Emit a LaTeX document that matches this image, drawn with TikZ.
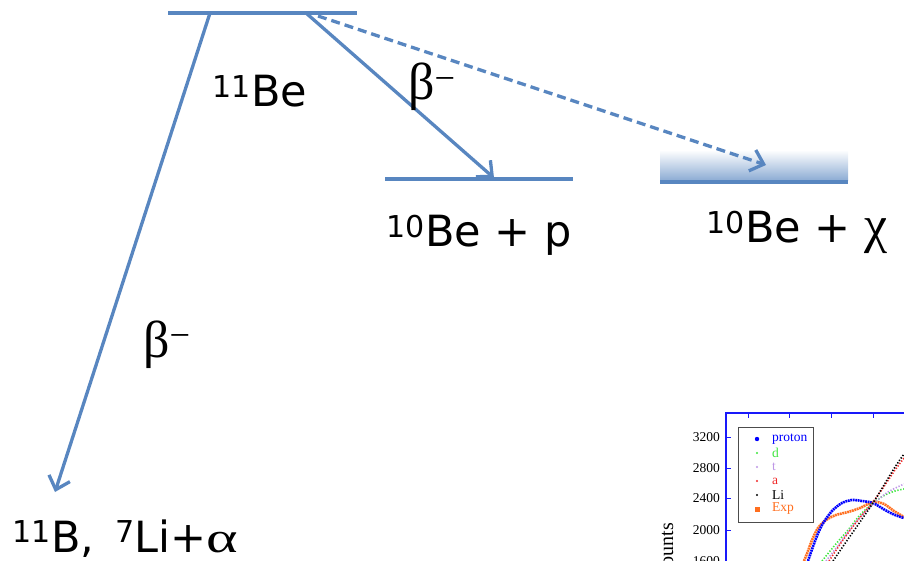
\documentclass[tikz,border=0pt]{standalone}
\usepackage{fontspec}
\setmainfont{DejaVu Sans}
\newfontfamily\greekfont{Liberation Serif}
\usetikzlibrary{arrows.meta}

\definecolor{lvlblue}{RGB}{88,134,192}
\definecolor{axisblue}{RGB}{25,25,250}
\definecolor{dgreen}{RGB}{60,230,60}
\definecolor{tpurple}{RGB}{190,150,230}
\definecolor{ared}{RGB}{240,40,40}
\definecolor{exporange}{RGB}{255,110,30}

\tikzset{
  lvl/.style={draw=lvlblue, line width=3.6pt},
  decay/.style={draw=lvlblue, line width=3.3pt, -{Straight Barb[length=12pt, width=22pt]}},
  lbl/.style={font=\fontsize{43}{50}\selectfont, inner sep=0pt, anchor=base west},
  greek/.style={font=\greekfont\fontsize{52}{60}\selectfont, inner sep=0pt, anchor=base west},
  ticklbl/.style={font=\greekfont\fontsize{13.5}{15}\selectfont, inner sep=0pt, anchor=east},
  legtext/.style={font=\greekfont\fontsize{13.5}{15}\selectfont, inner sep=0pt, anchor=west},
  dense/.style={line width=2.6pt, dash pattern=on 1.8pt off 0.7pt},
  sparse/.style={line width=1.6pt, dash pattern=on 1.3pt off 1.7pt}
}

\begin{document}
\begin{tikzpicture}[x=1pt, y=-1pt]
  \useasboundingbox (0,0) rectangle (904,561);

  % levels
  \coordinate (be11-l) at (168,13);
  \coordinate (be11-r) at (357,13);
  \coordinate (bep-l) at (385,179);
  \coordinate (bep-r) at (573,179);
  \draw[lvl] (be11-l) -- (be11-r);
  \draw[lvl] (bep-l) -- (bep-r);
  \shade[top color=white, bottom color=lvlblue!70] (660,150) rectangle (848,181);
  \coordinate (bechi-l) at (660,182);
  \coordinate (bechi-r) at (848,182);
  \draw[lvl] (bechi-l) -- (bechi-r);

  % decays
  \coordinate (src-b) at (210,13);
  \coordinate (dst-b) at (55,492);
  \coordinate (src-p) at (306,13);
  \coordinate (dst-p) at (494,178);
  \coordinate (src-chi) at (318,16);
  \coordinate (dst-chi) at (766,165);
  \draw[decay] (src-b) -- (dst-b);
  \draw[decay] (src-p) -- (dst-p);
  \draw[decay, dash pattern=on 9pt off 5pt] (src-chi) -- (dst-chi);

  \node[lbl] (be11) at (212,107) {\textsuperscript{11}Be};
  \node[lbl] (bep) at (386,247) {\textsuperscript{10}Be + p};
  \node[lbl] (bechi) at (706,243) {\textsuperscript{10}Be + {\greekfont\fontsize{52}{60}\selectfont χ}};
  \node[lbl] (b11) at (12,552) {\textsuperscript{11}B, \,\textsuperscript{7}Li+{\greekfont\scalebox{1.4}[1]{α}}};
  \node[greek] (beta-b) at (143,357) {β\textsuperscript{−}};
  \node[greek] (beta-p) at (408,100) {β\textsuperscript{−}};

  % inset plot, cut at the page edge
  \begin{scope}
    \clip (0,0) rectangle (904,561);
    \draw[axisblue, line width=1.6pt] (726,413) rectangle (980,640);
    \foreach \x in {748,789,831,873}
      \draw[axisblue, line width=1pt] (\x,413) -- (\x,418);
    \foreach \y/\v in {437/3200,468/2800,498/2400,530/2000,561/1600} {
      \draw[axisblue, line width=1pt] (726,\y) -- (731,\y);
      \node[ticklbl] (ytick\v) at (720,\y) {\v};
    }
    \node[font=\greekfont\fontsize{20}{24}\selectfont, rotate=90, anchor=base east, inner sep=0pt] (ylab) at (673,523) {Counts};

    \draw[exporange, dense] plot[smooth] coordinates {(804,561) (808,551) (812,540) (818,528) (826,520) (836,515) (848,512) (860,508) (873,502) (884,504) (894,511) (904,517)};
    \draw[blue, dense] plot[smooth] coordinates {(808,561) (815,541) (822,525) (832,511) (842,503) (852,500) (862,501) (873,503) (885,510) (895,515) (904,518)};
    \draw[dgreen, sparse] plot[smooth] coordinates {(822,561) (835,545) (848,530) (860,515) (873,503) (885,495) (895,491) (904,489)};
    \draw[tpurple, sparse] plot[smooth] coordinates {(826,561) (840,543) (855,523) (873,504) (888,492) (904,484)};
    \draw[ared, sparse] plot[smooth] coordinates {(829,561) (843,540) (858,520) (873,502) (885,485) (895,470) (904,458)};
    \draw[black, sparse] plot[smooth] coordinates {(833,561) (846,542) (860,522) (873,503) (884,485) (895,467) (904,454)};

    % legend
    \draw[black!70, line width=0.9pt, fill=white] (738,427) rectangle (813,522);
    \foreach \name/\col [count=\i] in {proton/blue, d/dgreen, t/tpurple, a/ared, Li/black, Exp/exporange} {
      \node[legtext, text=\col] (leg\i) at (772,425+14*\i) {\name};
    }
    \fill[blue] (757,439) circle (2.2pt);
    \foreach \col [count=\i from 2] in {dgreen, tpurple, ared, black}
      \fill[\col] (757,425+14*\i) circle (1.2pt);
    \fill[exporange] (754.5,506.5) rectangle (759.5,511.5);
  \end{scope}
\end{tikzpicture}
\end{document}
